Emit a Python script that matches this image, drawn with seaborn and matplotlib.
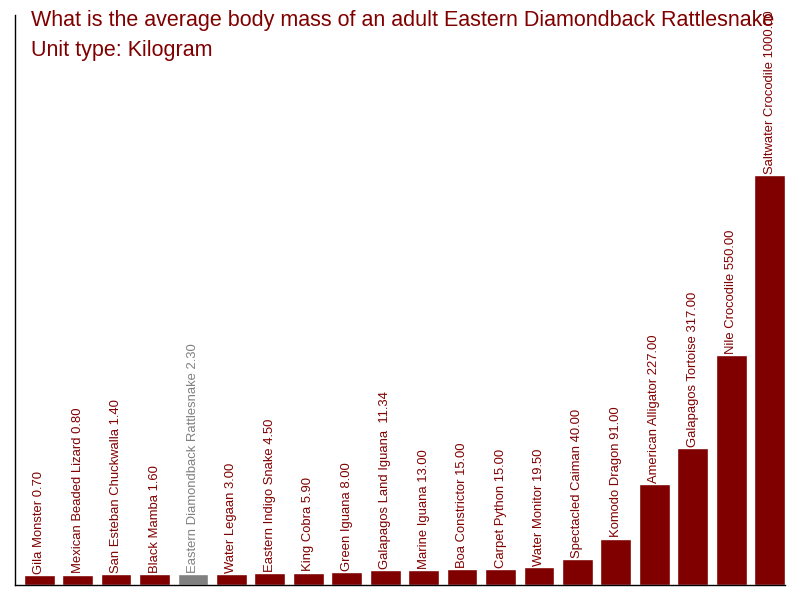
import pandas as pd
from matplotlib import pyplot as plt
import seaborn as sns

animals = ["Gila Monster", "Mexican Beaded Lizard", "San Esteban Chuckwalla", "Black Mamba",
           "Eastern Diamondback Rattlesnake", "Water Legaan", "Eastern Indigo Snake", "King Cobra",
           "Green Iguana", "Galapagos Land Iguana ", "Marine Iguana", "Boa Constrictor",
           "Carpet Python", "Water Monitor", "Spectacled Caiman", "Komodo Dragon",
           "American Alligator", "Galapagos Tortoise", "Nile Crocodile", "Saltwater Crocodile"]
mass = [0.70, 0.80, 1.40, 1.60, 2.30, 3.00, 4.50, 5.90, 8.00, 11.34, 13.00, 15.00,
        15.00, 19.50, 40.00, 91.00, 227.00, 317.00, 550.00, 1000.00]
highlight = "Eastern Diamondback Rattlesnake"

red = "#800000"
grey = "#808080"

df = pd.DataFrame({"animal": animals, "mass": mass})
# small bars still get a visible stub
base = 25
df["shown"] = df["mass"] + base
colors = [grey if a == highlight else red for a in animals]

sns.set_style("white")
plt.rcParams["font.family"] = ["Liberation Sans", "DejaVu Sans"]

fig = plt.figure(figsize=(8, 6), dpi=100)
ax = fig.add_axes([15 / 800, 15 / 600, 770 / 800, 570 / 600])
sns.barplot(ax=ax, data=df, x="animal", y="shown", hue="animal", palette=colors,
            width=0.8, saturation=1, legend=False)

for i, row in df.iterrows():
    c = grey if row["animal"] == highlight else red
    ax.text(i, row["shown"] + 3, f"{row['animal']} {row['mass']:.2f}", rotation=90,
            ha="center", va="bottom", fontsize=9.4, color=c, clip_on=False)

ax.set_xlim(-0.63, 19.4)
ax.set_ylim(0, 1425)
ax.set_xticks([])
ax.set_yticks([])
ax.set_xlabel("")
ax.set_ylabel("")
for s in ["top", "right"]:
    ax.spines[s].set_visible(False)
for s in ["left", "bottom"]:
    ax.spines[s].set_color("black")
    ax.spines[s].set_linewidth(1)

fig.text(31 / 800, 1 - 10 / 600, "What is the average body mass of an adult Eastern Diamondback Rattlesnake",
         fontsize=15.5, color=red, va="top", ha="left")
fig.text(31 / 800, 1 - 40 / 600, "Unit type: Kilogram",
         fontsize=15.5, color=red, va="top", ha="left")

plt.savefig("out.png", dpi=100)
